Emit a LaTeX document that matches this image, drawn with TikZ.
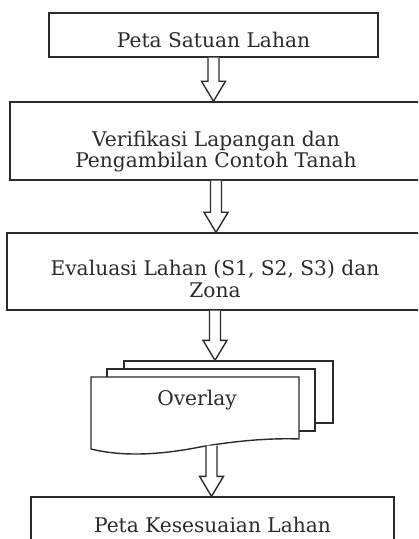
\documentclass[tikz,border=0pt]{standalone}
\usepackage{fontspec}
\setmainfont{DejaVu Serif}
\usepackage{tikz}
\usetikzlibrary{calc}
\definecolor{flowink}{HTML}{2B2B2B}
\tikzset{
  flowBox/.style={draw=flowink, line width=0.7pt, fill=white, align=center, inner sep=0pt, text=flowink, font=\fontsize{10.1}{10.7}\selectfont},
  oneLine/.style={text height=13pt, text depth=0pt},
  fatArrowLine/.style={draw=flowink, line width=0.7pt, fill=white, line join=miter},
  docShape/.style={draw=flowink, line width=0.7pt, fill=white},
  docLabel/.style={text=flowink, inner sep=0pt, font=\fontsize{10.1}{10.7}\selectfont}
}
% hollow block arrow, straight down from #1 to the level of #2
\newcommand{\fatArrow}[2]{%
  \draw[fatArrowLine] ($(#1)+(-5.5,0)$) -- ($(#1 |- #2)+(-5.5,-20)$) -- ($(#1 |- #2)+(-12,-20)$)
    -- (#1 |- #2) -- ($(#1 |- #2)+(12,-20)$) -- ($(#1 |- #2)+(5.5,-20)$) -- ($(#1)+(5.5,0)$);}

\begin{document}
\begin{tikzpicture}[x=0.5pt, y=-0.5pt]
  \useasboundingbox (0,0) rectangle (418,539);
  \clip (0,0) rectangle (418,539);

  \node[flowBox, oneLine, minimum width=164.5pt, minimum height=22pt] (petaSatuan) at (213.5,35) {Peta Satuan Lahan};
  \node[flowBox, text height=29pt, text depth=2pt, minimum width=206pt, minimum height=39pt] (verifikasi) at (216,141) {Verifikasi Lapangan dan\\ Pengambilan Contoh Tanah};
  \node[flowBox, text height=27.5pt, text depth=2pt, minimum width=208pt, minimum height=38.5pt] (evaluasi) at (215,271.5) {Evaluasi Lahan (S1, S2, S3) dan\\ Zona};

  % stacked overlay sheets
  \node[flowBox, minimum width=104.5pt, minimum height=31pt] (ovBack) at (228.5,392) {};
  \node[flowBox, minimum width=104pt, minimum height=31pt] (ovMid) at (211,400) {};
  \draw[docShape] (91,449) -- (91,377) -- (299,377) -- (299,439)
    .. controls (275,438) and (240,440) .. (200,447)
    .. controls (150,457) and (115,455) .. (91,449) -- cycle;
  \node[docLabel] (ovFront) at (197,400) {Overlay};
  \coordinate (ovFoot) at (211.5,445.5);

  \node[flowBox, text height=12pt, text depth=0pt, minimum width=181.5pt, minimum height=23pt] (petaSesuai) at (212.5,520) {Peta Kesesuaian Lahan};

  \fatArrow{petaSatuan.south}{verifikasi.north}
  \fatArrow{verifikasi.south}{evaluasi.north}
  \fatArrow{evaluasi.south}{ovBack.north}
  \fatArrow{ovFoot}{petaSesuai.north}
\end{tikzpicture}
\end{document}
